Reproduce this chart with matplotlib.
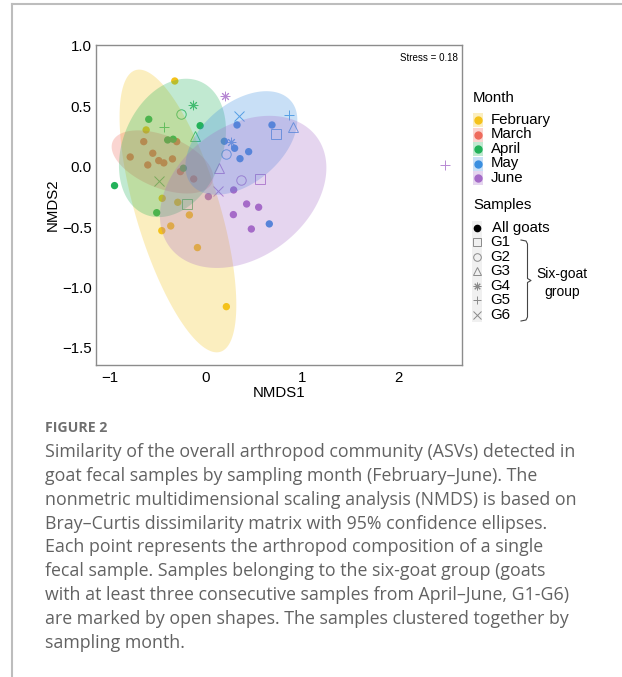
import numpy as np
import matplotlib
matplotlib.use('Agg')
import matplotlib.pyplot as plt
from matplotlib.patches import Rectangle
from matplotlib.lines import Line2D

plt.rcParams['font.family'] = ['Liberation Sans', 'DejaVu Sans']

# ---- data ----
months = ['February', 'March', 'April', 'May', 'June']
colors = ['#F4C21B', '#EE6B5C', '#23B25A', '#3A8FE0', '#A56BC8']

# samples of all goats (filled dots)
feb_x = [-0.326, -0.624, -0.457, -0.295, -0.174, -0.368, -0.461, -0.090, 0.211]
feb_y = [0.709, 0.304, -0.262, -0.295, -0.400, -0.491, -0.530, -0.670, -1.159]
mar_x = [-0.306, -0.649, -0.555, -0.790, -0.493, -0.440, -0.350, -0.607, -0.267, -0.129]
mar_y = [0.207, 0.207, 0.111, 0.080, 0.050, 0.031, 0.064, 0.014, -0.041, -0.102]
apr_x = [-0.597, -0.062, -0.400, -0.343, -0.236, -0.953, -0.514]
apr_y = [0.392, 0.339, 0.221, 0.227, -0.013, -0.157, -0.381]
may_x = [0.190, 0.322, 0.686, 0.297, 0.443, 0.353, 0.658]
may_y = [0.210, 0.345, 0.345, 0.152, 0.124, 0.066, -0.474]
jun_x = [0.287, 0.024, 0.422, 0.547, 0.284, 0.471]
jun_y = [-0.193, -0.248, -0.309, -0.336, -0.397, -0.516]

# six-goat group, G1..G6 (open shapes), April / May / June
goats = ['G1', 'G2', 'G3', 'G4', 'G5', 'G6']
goat_markers = ['s', 'o', '^', (8, 2, 0), '+', 'x']
goat_apr_x = [-0.198, -0.260, -0.111, -0.135, -0.440, -0.493]
goat_apr_y = [-0.309, 0.434, 0.254, 0.511, 0.331, -0.118]
goat_may_x = [0.731, 0.211, 0.900, 0.263, 0.859, 0.346]
goat_may_y = [0.270, 0.103, 0.331, 0.200, 0.428, 0.420]
goat_jun_x = [0.564, 0.367, 0.138, 0.200, 2.490, 0.125]
goat_jun_y = [-0.099, -0.110, -0.008, 0.585, 0.017, -0.201]

# 95% confidence ellipses: centre, end of one semi-axis, end of the other
ell_center = [(-0.293, -0.367), (-0.454, 0.039), (-0.350, 0.155), (0.367, 0.196), (0.386, -0.209)]
ell_a_end = [(0.148, -1.533), (0.065, -0.129), (-0.111, 0.718), (0.885, 0.542), (1.148, 0.250)]
ell_b_end = [(0.125, -0.267), (-0.556, -0.161), (0.153, 0.050), (0.634, -0.057), (0.798, -0.640)]

stress = 0.18

caption_lines = [
    'Similarity of the overall arthropod community (ASVs) detected in',
    'goat fecal samples by sampling month (February\u2013June). The',
    'nonmetric multidimensional scaling analysis (NMDS) is based on',
    'Bray\u2013Curtis dissimilarity matrix with 95% confidence ellipses.',
    'Each point represents the arthropod composition of a single',
    'fecal sample. Samples belonging to the six-goat group (goats',
    'with at least three consecutive samples from April\u2013June, G1-G6)',
    'are marked by open shapes. The samples clustered together by',
    'sampling month.',
]


def ellipse_xy(c, a_end, b_end, n=240):
    t = np.linspace(0, 2 * np.pi, n)
    c = np.array(c)
    a = np.array(a_end) - c
    b = np.array(b_end) - c
    return (c[0] + a[0] * np.cos(t) + b[0] * np.sin(t),
            c[1] + a[1] * np.cos(t) + b[1] * np.sin(t))


W, H = 622, 677
fig = plt.figure(figsize=(W / 100, H / 100), dpi=100)
ax = fig.add_axes([96 / W, 1 - 365 / H, (462 - 96) / W, (365 - 45) / H])

all_x = [feb_x, mar_x, apr_x, may_x, jun_x]
all_y = [feb_y, mar_y, apr_y, may_y, jun_y]
for xs, ys, col in zip(all_x, all_y, colors):
    ax.scatter(xs, ys, s=28, color=col, edgecolors='none', zorder=2)

goat_sets = [(goat_apr_x, goat_apr_y, colors[2]),
             (goat_may_x, goat_may_y, colors[3]),
             (goat_jun_x, goat_jun_y, colors[4])]
for gx, gy, col in goat_sets:
    for i in range(len(goats)):
        ax.plot(gx[i], gy[i], linestyle='none', marker=goat_markers[i], ms=6.8,
                mfc='none', mec=col, mew=0.7, alpha=0.8, zorder=2)

# ellipses drawn on top of the points, as in the original
for c, a_end, b_end, col in zip(ell_center, ell_a_end, ell_b_end, colors):
    ex, ey = ellipse_xy(c, a_end, b_end)
    ax.fill(ex, ey, color=col, alpha=0.28, lw=0, zorder=3)

ax.set_xlim(-1.146, 2.664)
ax.set_ylim(-1.642, 1.007)
ax.set_xticks([-1, 0, 1, 2])
ax.set_yticks([-1.5, -1.0, -0.5, 0.0, 0.5, 1.0])
ax.set_yticklabels(['\u22121.5', '\u22121.0', '\u22120.5', '0.0', '0.5', '1.0'])
ax.set_xticklabels(['\u22121', '0', '1', '2'])
ax.tick_params(length=0, labelsize=10.8, pad=4)
ax.tick_params(axis='y', pad=3)
for sp in ax.spines.values():
    sp.set_color('#8C8C8C')
    sp.set_linewidth(1.0)
ax.set_xlabel('NMDS1', fontsize=10.8, labelpad=1)
ax.set_ylabel('NMDS2', fontsize=10.8, labelpad=2)
ax.text(0.988, 0.975, 'Stress = {:.2f}'.format(stress), transform=ax.transAxes,
        ha='right', va='top', fontsize=7)

# ---- overlay in pixel coordinates: legend, caption, frame ----
ov = fig.add_axes([0, 0, 1, 1], facecolor='none')
ov.set_xlim(0, W)
ov.set_ylim(H, 0)
ov.axis('off')

ov.text(473, 98, 'Month', fontsize=10.8, va='center')
month_rows = [120, 134.5, 149, 163.5, 178]
for m, col, yy in zip(months, colors, month_rows):
    ov.add_patch(Rectangle((472.5, yy - 7), 10.5, 14, color=col, alpha=0.28, lw=0))
    ov.plot(477.7, yy, 'o', ms=5, color=col)
    ov.text(490.5, yy, m, fontsize=10.8, va='center')

ov.text(473, 205, 'Samples', fontsize=10.8, va='center')
ov.add_patch(Rectangle((471.5, 221), 10.5, 101, color='#F0F0F0', lw=0))
ov.plot(476.5, 227.7, 'o', ms=4.5, color='black')
ov.text(492, 227.7, 'All goats', fontsize=10.8, va='center')
goat_rows = [242.3, 256.7, 271, 285.7, 300, 315]
for g, mk, yy in zip(goats, goat_markers, goat_rows):
    ov.plot(476.7, yy, linestyle='none', marker=mk, ms=5.5, mfc='none',
            mec='#8A8A8A', mew=0.7)
    ov.text(490.5, yy, g, fontsize=10.8, va='center')

brace_x = [521, 526, 527.5, 527.5, 531, 527.5, 527.5, 526, 521]
brace_y = [240, 241, 244, 278.5, 280.5, 282.5, 317, 320, 321]
ov.plot(brace_x, brace_y, color='#444444', lw=0.8)
ov.text(562, 274, 'Six-goat', fontsize=10, ha='center', va='center')
ov.text(562, 292, 'group', fontsize=10, ha='center', va='center')

cap_font = ['Open Sans', 'DejaVu Sans']
ov.text(45, 428, 'FIGURE 2', fontsize=10.2, fontweight='bold', color='#707070',
        va='center', family=cap_font)
for i, line in enumerate(caption_lines):
    ov.text(45, 451.7 + i * 23.95, line, fontsize=12.8, color='#626262',
            va='center', family=cap_font)

ov.add_line(Line2D([12, W], [4, 4], color='#BDBDBD', lw=1.5))
ov.add_line(Line2D([12, 12], [4, H], color='#BDBDBD', lw=1.5))

fig.savefig('out.png', dpi=100)
